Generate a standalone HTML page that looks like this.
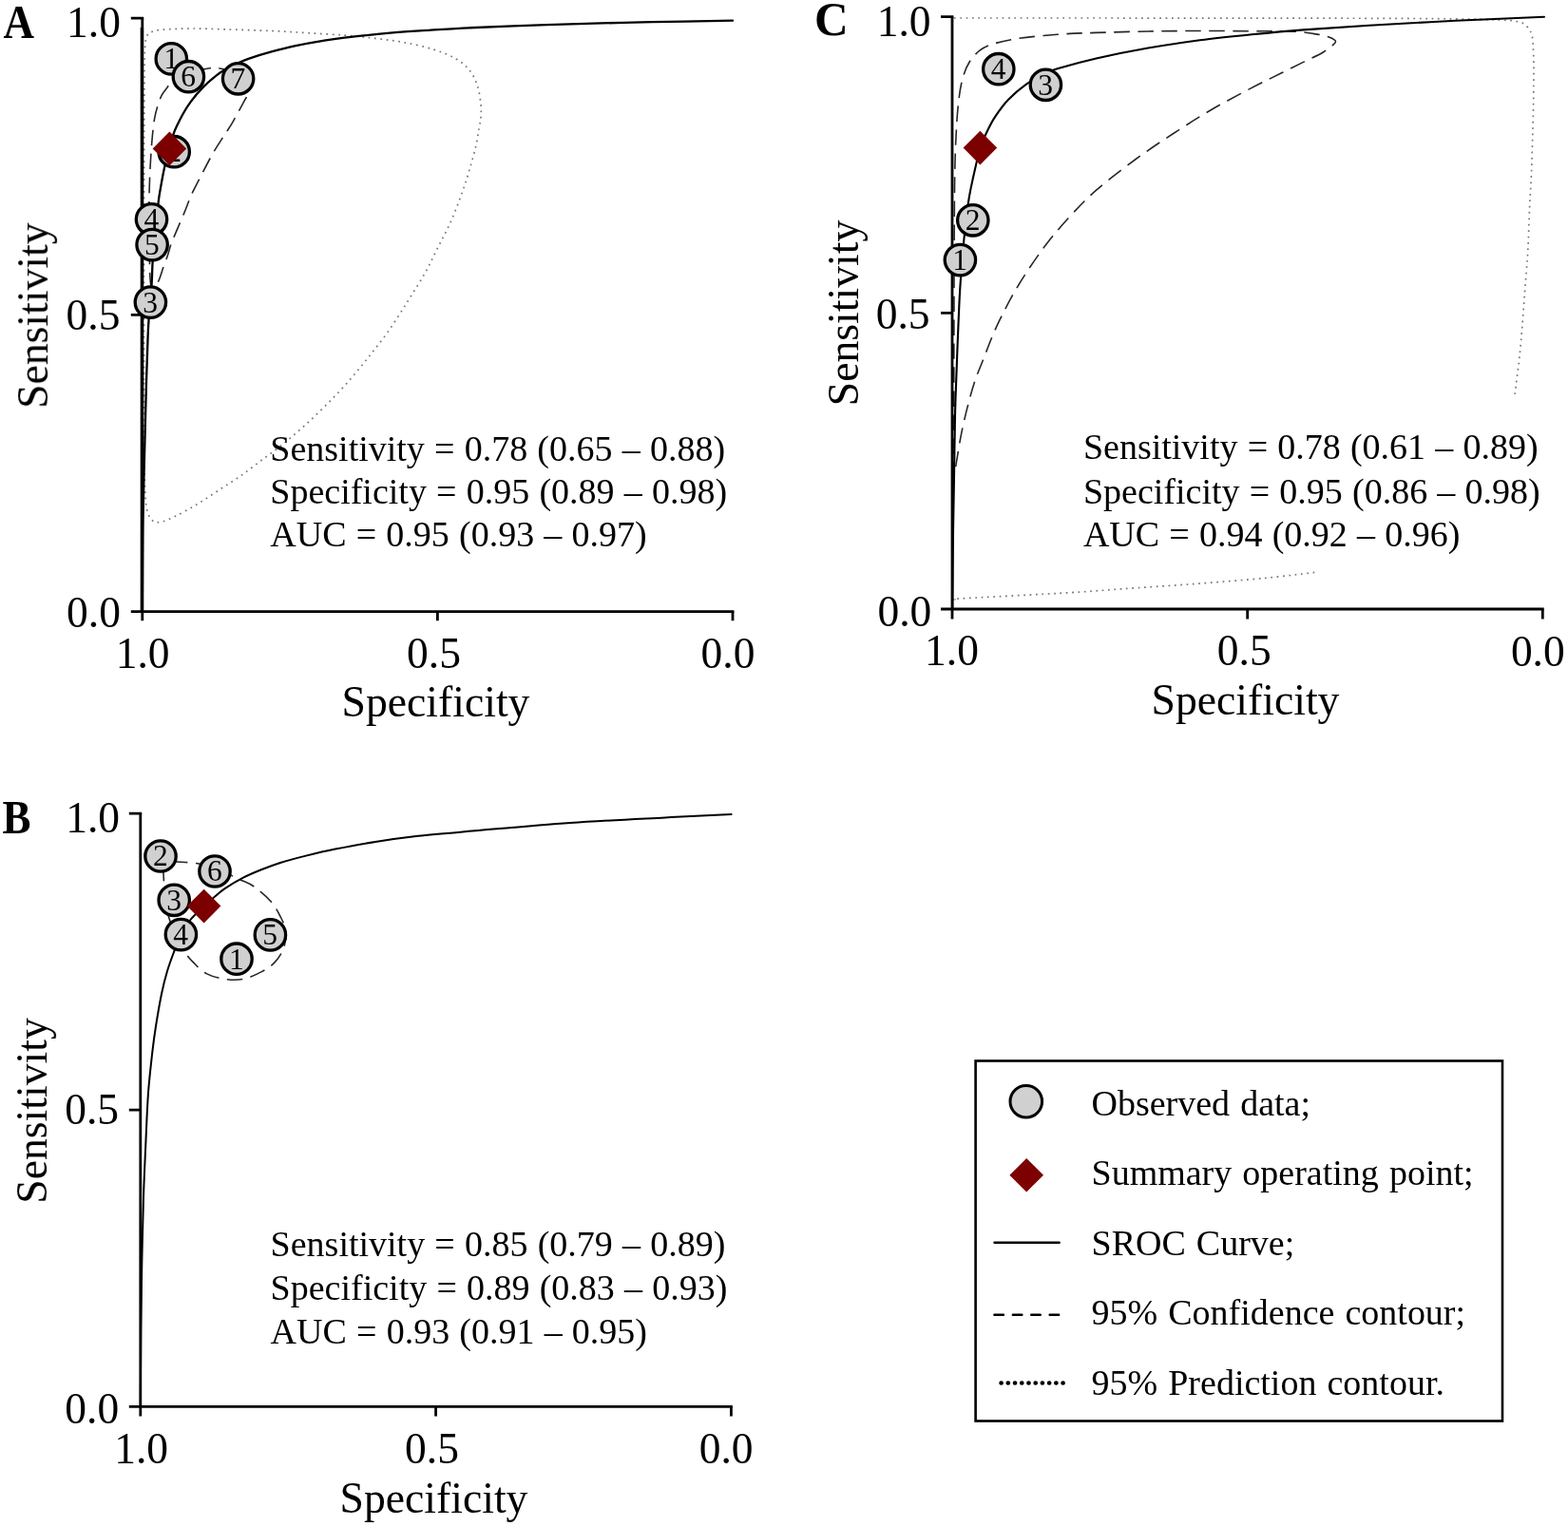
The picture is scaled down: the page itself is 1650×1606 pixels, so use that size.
<!DOCTYPE html>
<html lang="en">
<head>
<meta charset="utf-8">
<title>SROC curves</title>
<style>
html,body{margin:0;padding:0;background:#fff;}
body{width:1650px;height:1606px;overflow:hidden;}
svg{display:block;}
text{font-family:"Liberation Serif",serif;fill:#000;}
.ax path{stroke:#000;stroke-width:2.8;fill:none;stroke-linecap:butt;}
.tk{font-size:45.5px;}
.ti{font-size:45.7px;}
.an{font-size:38px;word-spacing:0.7px;}
.lg{word-spacing:1.6px;}
.pl{font-size:45px;font-weight:bold;}
.ob circle{fill:#d0d0d0;stroke:#000;stroke-width:3.3;}
.ob text{font-size:31.5px;text-anchor:middle;}
.dm{fill:#7b0000;}
.sr{fill:none;stroke:#000;stroke-width:2.3;stroke-linecap:round;stroke-linejoin:round;}
.cf{fill:none;stroke:#262626;stroke-width:1.6;stroke-dasharray:16.5 8.5;}
.pr{fill:none;stroke:#757575;stroke-width:1.7;stroke-dasharray:1.7 4.66;}
</style>
</head>
<body>
<svg width="1650" height="1606" viewBox="0 0 1650 1606">
<defs><filter id="soft" x="0" y="0" width="1650" height="1606" filterUnits="userSpaceOnUse"><feGaussianBlur stdDeviation="0.42"/></filter></defs>
<rect width="1650" height="1606" fill="#fff"/>
<g filter="url(#soft)">
<!-- Panel A -->
<text class="pl" transform="translate(3.6 40.2) scale(1 1.105)">A</text>
<path class="pr" d="M151.5 400.0C151.4 355.0 151.4 253.3 151.5 200.0C151.6 146.7 151.8 105.0 152.0 80.0C152.2 55.0 152.2 57.0 152.6 50.0C153.0 43.0 153.5 40.6 154.6 37.9C155.7 35.2 156.8 34.8 159.4 33.7C162.0 32.6 163.5 31.9 170.4 31.3C177.3 30.7 189.6 30.1 200.7 30.0C211.8 29.9 222.9 30.5 237.1 30.9C251.3 31.3 271.2 31.9 285.7 32.5C300.2 33.1 311.2 33.9 324.0 34.7C336.8 35.5 350.9 36.2 362.7 37.1C374.5 38.0 384.3 39.1 394.7 40.4C405.1 41.7 415.1 42.8 425.3 44.7C435.5 46.6 446.9 49.1 456.0 52.0C465.1 54.9 473.6 58.2 480.0 62.0C486.4 65.8 490.9 69.8 494.7 74.7C498.5 79.6 500.8 85.4 502.7 91.3C504.6 97.2 505.4 104.7 506.0 110.0C506.6 115.3 506.3 119.1 506.0 123.3C505.7 127.5 504.9 130.2 504.0 135.3C503.1 140.4 502.4 146.8 500.7 154.0C499.0 161.2 496.4 170.7 494.0 178.7C491.6 186.7 489.8 193.0 486.5 202.2C483.2 211.3 478.5 223.9 474.2 233.6C469.9 243.3 465.2 251.6 460.7 260.6C456.2 269.6 452.4 278.2 447.2 287.5C442.0 296.8 435.6 306.5 429.3 316.6C423.0 326.7 416.2 337.9 409.1 348.0C402.0 358.1 394.2 367.8 386.7 377.2C379.2 386.6 371.8 395.7 364.3 404.1C356.8 412.5 349.3 420.1 341.8 427.6C334.3 435.1 326.9 442.2 319.4 448.9C311.9 455.6 304.5 462.0 297.0 468.0C289.5 474.0 282.1 479.2 274.6 484.8C267.1 490.4 259.6 496.4 252.1 501.6C244.6 506.8 237.2 511.3 229.7 516.2C222.2 521.1 214.8 526.3 207.3 530.8C199.8 535.3 191.2 540.0 184.9 543.1C178.6 546.2 173.3 548.6 169.2 549.4C165.1 550.1 162.6 549.8 160.2 547.6C157.8 545.4 155.9 542.0 154.6 536.4C153.3 530.8 153.1 525.1 152.6 514.0C152.1 502.9 152.0 489.0 151.8 470.0C151.6 451.0 151.6 445.0 151.5 400.0Z"/>
<path class="cf" d="M159.5 303.0C158.5 301.2 158.2 297.2 157.8 290.0C157.4 282.8 157.4 270.0 157.3 260.0C157.2 250.0 157.1 239.2 157.0 230.0C156.9 220.8 156.8 214.3 157.0 205.0C157.2 195.7 157.7 183.5 158.2 173.9C158.7 164.3 159.3 155.3 160.0 147.2C160.7 139.1 161.5 131.5 162.5 125.4C163.5 119.3 164.8 115.0 166.1 110.8C167.4 106.5 168.7 103.1 170.4 99.9C172.1 96.7 174.6 93.8 176.4 91.4C178.2 89.0 179.0 87.3 181.3 85.3C183.6 83.3 186.4 81.2 190.0 79.5C193.6 77.8 198.6 76.2 203.0 75.0C207.4 73.8 212.8 73.1 216.5 72.5C220.2 71.9 222.4 71.3 225.0 71.3C227.6 71.2 229.3 71.6 232.3 72.2C235.3 72.8 239.6 73.6 243.0 75.0C246.4 76.4 250.2 78.3 253.0 80.5C255.8 82.7 258.4 85.8 260.0 88.0C261.6 90.2 262.1 92.2 262.3 94.0C262.5 95.8 262.3 96.4 261.4 98.6C260.4 100.8 258.6 103.4 256.6 107.1C254.6 110.8 251.5 116.5 249.3 120.5C247.1 124.5 245.4 127.8 243.2 131.4C241.0 135.1 239.1 137.3 235.9 142.4C232.7 147.5 227.6 155.1 223.8 161.8C220.0 168.5 216.5 175.4 212.9 182.4C209.3 189.4 205.2 196.7 202.0 203.8C198.8 210.9 196.5 217.7 193.5 224.9C190.5 232.1 186.3 241.6 184.0 247.1C181.7 252.6 180.9 254.2 179.7 257.7C178.5 261.2 177.8 264.6 176.6 268.3C175.4 272.0 173.7 275.8 172.3 279.9C170.9 283.9 169.5 289.1 168.1 292.6C166.7 296.1 165.4 299.3 164.0 301.0C162.6 302.7 160.5 304.8 159.5 303.0Z"/>
<path class="sr" d="M149.8 643.0C149.9 629.2 150.1 581.5 150.3 560.0C150.5 538.5 150.9 529.2 151.2 514.0C151.5 498.8 151.8 487.7 152.3 469.0C152.8 450.3 153.5 420.2 154.0 402.0C154.5 383.8 155.0 370.8 155.4 360.0C155.8 349.2 155.8 347.2 156.5 337.0C157.2 326.8 158.9 309.4 159.6 299.0C160.3 288.6 160.0 283.7 160.7 274.7C161.3 265.7 162.5 255.1 163.5 245.0C164.5 234.9 165.7 221.8 166.5 214.3C167.3 206.8 167.5 206.1 168.6 200.0C169.7 193.9 171.2 184.9 172.8 177.6C174.4 170.3 176.4 162.1 178.0 156.0C179.6 149.9 181.2 145.0 182.5 141.1C183.8 137.2 184.5 136.0 186.1 132.6C187.7 129.2 189.8 124.8 192.2 120.5C194.6 116.2 197.2 111.8 200.7 107.1C204.1 102.4 208.8 96.8 212.9 92.6C217.0 88.3 221.0 84.8 225.0 81.6C229.0 78.3 233.0 75.5 237.1 73.1C241.2 70.7 245.2 69.0 249.3 67.1C253.4 65.2 255.3 63.9 261.4 61.8C267.5 59.7 277.6 56.6 285.7 54.4C293.8 52.1 300.9 50.2 310.0 48.3C319.1 46.4 331.2 44.2 340.0 42.8C348.8 41.4 350.5 41.1 362.7 39.7C374.9 38.3 398.2 35.8 413.3 34.4C428.4 33.0 440.0 32.5 453.3 31.6C466.6 30.8 478.9 30.0 493.3 29.3C507.8 28.6 522.2 28.0 540.0 27.3C557.8 26.6 580.7 26.0 600.0 25.4C619.3 24.8 635.8 24.3 655.8 23.8C675.8 23.3 700.8 23.0 720.0 22.6C739.2 22.2 762.5 21.9 771.0 21.7"/>
<g class="ax">
<path d="M137.8 19.1H151.2M137.8 331.4H149.8M137.8 643.6H772.4"/>
<path d="M149.8 19.1V653.2M460.4 643.6v9.6M771.0 643.6v9.6"/>
<path d="M149.4 29.1V643.6" style="stroke-width:3.4px"/>
</g>
<g class="tk" text-anchor="middle">
<text transform="translate(150.1 703.0) scale(1 1.02)">1.0</text>
<text transform="translate(456.5 703.0) scale(1 1.02)">0.5</text>
<text transform="translate(766.0 703.0) scale(1 1.02)">0.0</text>
</g>
<g class="tk" text-anchor="end">
<text transform="translate(126.9 38.8) scale(1 1.02)">1.0</text>
<text transform="translate(126.4 346.8) scale(1 1.02)">0.5</text>
<text transform="translate(126.9 659.7) scale(1 1.02)">0.0</text>
</g>
<text class="ti" text-anchor="middle" transform="translate(458.5 754.4) scale(1 1.02)">Specificity</text>
<text class="ti" text-anchor="middle" transform="translate(49.9 332.2) rotate(-90) scale(1 1.02)">Sensitivity</text>
<g class="ob">
<circle cx="180.3" cy="61.9" r="16.2"/><text x="180.1" y="72.3">1</text>
<circle cx="198.4" cy="80.7" r="16.2"/><text x="198.2" y="91.1">6</text>
<circle cx="250.6" cy="82.8" r="16.2"/><text x="250.4" y="93.2">7</text>
<circle cx="183.2" cy="159.7" r="16.2"/><text x="183.0" y="170.1">2</text>
<circle cx="159.5" cy="230.8" r="16.2"/><text x="159.3" y="241.2">4</text>
<circle cx="160.1" cy="257.6" r="16.2"/><text x="159.9" y="268.0">5</text>
<circle cx="158.4" cy="318.1" r="16.2"/><text x="158.2" y="328.5">3</text>
</g>
<path class="dm" d="M160.6 156.4L178.4 138.6L196.2 156.4L178.4 174.2Z"/>
<g class="an">
<text transform="translate(284.3 485.2) scale(1 1.02)">Sensitivity = 0.78 (0.65 – 0.88)</text>
<text transform="translate(284.3 530.0) scale(1 1.02)">Specificity = 0.95 (0.89 – 0.98)</text>
<text transform="translate(284.3 574.8) scale(1 1.02)">AUC = 0.95 (0.93 – 0.97)</text>
</g>
<!-- Panel C -->
<text class="pl" transform="translate(856.9 37) scale(1.1 1.145)">C</text>
<path class="pr" d="M1004.0 19.0C1020.0 19.0 1042.3 19.0 1100.0 19.0C1157.7 19.0 1293.2 19.1 1350.0 19.1C1406.8 19.2 1410.7 19.2 1441.0 19.3C1471.3 19.4 1507.6 19.5 1531.8 19.9C1556.0 20.2 1575.2 20.8 1586.4 21.4C1597.6 22.0 1595.7 22.8 1598.7 23.5C1601.8 24.2 1603.0 24.4 1604.7 25.7C1606.4 26.9 1607.8 29.2 1609.0 31.0C1610.2 32.8 1611.3 33.7 1612.0 36.7C1612.7 39.7 1613.0 43.1 1613.3 49.1C1613.6 55.1 1614.0 62.7 1614.0 72.7C1614.0 82.7 1613.8 97.0 1613.6 109.1C1613.4 121.2 1613.0 133.4 1612.7 145.5C1612.4 157.6 1612.0 169.7 1611.5 181.8C1611.0 193.9 1610.2 204.6 1609.6 218.2C1609.0 231.8 1608.4 252.5 1607.8 263.6C1607.2 274.7 1606.8 277.7 1606.2 285.0C1605.7 292.3 1605.2 297.5 1604.5 307.3C1603.8 317.1 1602.7 332.4 1601.8 343.6C1600.9 354.8 1600.0 365.7 1599.1 374.5C1598.2 383.3 1597.3 389.0 1596.4 396.4C1595.5 403.8 1594.1 415.3 1593.6 419.1"/>
<path class="pr" d="M1005.0 630.8C1005.9 630.7 989.8 631.2 1010.2 630.0C1030.6 628.8 1099.0 625.3 1127.3 623.6C1155.6 621.9 1158.8 621.3 1180.0 619.8C1201.2 618.3 1229.3 616.6 1254.5 614.7C1279.7 612.8 1308.8 610.5 1330.9 608.4C1353.0 606.3 1377.6 603.1 1386.9 602.0"/>
<path class="cf" d="M1003.8 503.0C1003.8 485.8 1003.8 433.8 1003.8 400.0C1003.8 366.2 1003.9 334.9 1004.0 300.0C1004.1 265.1 1004.2 218.2 1004.6 190.9C1005.0 163.6 1005.6 151.0 1006.4 136.4C1007.1 121.9 1008.0 112.7 1009.1 103.6C1010.2 94.5 1011.4 88.1 1013.2 81.8C1015.0 75.5 1017.0 70.3 1020.0 65.5C1023.0 60.7 1026.8 56.4 1030.9 53.2C1035.0 50.0 1037.7 48.5 1044.5 46.4C1051.3 44.3 1060.4 42.1 1071.8 40.4C1083.2 38.7 1099.1 37.3 1112.7 36.3C1126.3 35.3 1137.7 34.9 1153.6 34.4C1169.5 33.9 1190.0 33.3 1208.2 33.0C1226.4 32.7 1244.5 32.5 1262.7 32.5C1280.9 32.5 1300.7 32.6 1317.3 32.7C1333.9 32.8 1351.4 32.7 1362.3 33.2C1373.2 33.7 1376.9 34.7 1382.7 35.6C1388.5 36.5 1393.3 37.3 1397.0 38.4C1400.7 39.5 1403.4 41.0 1404.6 42.2C1405.8 43.4 1406.3 43.7 1404.3 45.8C1402.3 47.9 1398.1 51.5 1392.8 54.7C1387.5 57.9 1379.7 61.3 1372.5 64.9C1365.3 68.5 1358.8 71.7 1349.6 76.3C1340.4 80.9 1329.5 86.0 1317.3 92.4C1305.1 98.8 1290.0 106.6 1276.4 114.5C1262.8 122.4 1249.2 131.1 1235.5 140.0C1221.8 148.9 1208.2 158.0 1194.5 168.0C1180.8 178.0 1164.9 190.3 1153.6 200.2C1142.2 210.1 1135.5 217.3 1126.4 227.2C1117.3 237.1 1108.2 247.5 1099.1 259.6C1090.0 271.7 1080.0 286.4 1071.8 300.0C1063.6 313.6 1056.3 327.6 1050.0 340.9C1043.7 354.2 1038.1 369.7 1034.0 380.0C1029.9 390.3 1027.9 394.8 1025.3 402.7C1022.7 410.6 1020.6 418.7 1018.4 427.1C1016.2 435.5 1014.0 444.8 1012.3 453.2C1010.5 461.6 1009.2 470.0 1007.9 477.6C1006.6 485.2 1005.1 495.4 1004.6 499.0"/>
<path class="sr" style="stroke-width:2.1px" d="M1002.3 641.0C1002.4 627.5 1002.7 583.2 1003.0 560.0C1003.3 536.8 1003.7 522.3 1004.0 502.0C1004.3 481.7 1004.6 455.8 1005.0 438.0C1005.4 420.2 1005.8 411.7 1006.4 395.5C1007.0 379.3 1007.8 356.8 1008.5 340.9C1009.2 325.0 1009.5 315.0 1010.5 300.0C1011.5 285.0 1013.1 265.0 1014.5 250.9C1015.9 236.8 1017.5 224.1 1018.6 215.5C1019.8 206.9 1020.0 205.9 1021.4 199.1C1022.8 192.3 1025.1 181.8 1026.8 174.5C1028.5 167.2 1029.7 161.3 1031.5 155.6C1033.3 149.9 1035.1 146.0 1037.7 140.5C1040.3 135.0 1043.4 128.6 1047.3 122.7C1051.2 116.8 1055.5 110.7 1060.9 105.0C1066.4 99.3 1073.5 93.2 1080.0 88.6C1086.5 84.0 1094.5 80.2 1100.0 77.5C1105.5 74.8 1103.8 75.0 1112.7 72.3C1121.6 69.6 1137.7 65.0 1153.6 61.4C1169.5 57.8 1190.0 53.7 1208.2 50.5C1226.4 47.3 1244.5 44.7 1262.7 42.3C1280.9 39.9 1299.1 38.1 1317.3 36.3C1335.5 34.5 1351.2 33.0 1371.8 31.4C1392.4 29.8 1414.2 28.3 1440.9 26.7C1467.6 25.1 1501.1 23.3 1531.8 21.8C1562.5 20.3 1609.5 18.4 1625.0 17.7"/>
<g class="ax">
<path d="M990.0 17.7H1003.4M990.0 329.4H1002.0M990.0 641.0H1624.7"/>
<path d="M1002.0 17.7V651.4M1312.7 641.0v10.4M1623.3 641.0v10.4"/>
</g>
<g class="tk" text-anchor="middle">
<text transform="translate(1001.5 700.3) scale(1 1.02)">1.0</text>
<text transform="translate(1309.2 700.2) scale(1 1.02)">0.5</text>
<text transform="translate(1618.3 700.6) scale(1 1.02)">0.0</text>
</g>
<g class="tk" text-anchor="end">
<text transform="translate(979.6 37.5) scale(1 1.02)">1.0</text>
<text transform="translate(978.5 345.9) scale(1 1.02)">0.5</text>
<text transform="translate(980.3 659.0) scale(1 1.02)">0.0</text>
</g>
<text class="ti" text-anchor="middle" transform="translate(1310.5 752.4) scale(1 1.02)">Specificity</text>
<text class="ti" text-anchor="middle" transform="translate(902.9 329.5) rotate(-90) scale(1 1.02)">Sensitivity</text>
<g class="ob">
<circle cx="1050.8" cy="72.7" r="16.2"/><text x="1050.6" y="83.1">4</text>
<circle cx="1100.4" cy="89.3" r="16.2"/><text x="1100.2" y="99.7">3</text>
<circle cx="1023.8" cy="231.8" r="16.2"/><text x="1023.6" y="242.2">2</text>
<circle cx="1010.4" cy="273.6" r="16.2"/><text x="1010.2" y="284.0">1</text>
</g>
<path class="dm" d="M1013.6 155.6L1031.4 137.8L1049.2 155.6L1031.4 173.4Z"/>
<g class="an">
<text transform="translate(1139.9 482.8) scale(1 1.02)">Sensitivity = 0.78 (0.61 – 0.89)</text>
<text transform="translate(1139.9 529.7) scale(1 1.02)">Specificity = 0.95 (0.86 – 0.98)</text>
<text transform="translate(1139.9 575.4) scale(1 1.02)">AUC = 0.94 (0.92 – 0.96)</text>
</g>
<!-- Panel B -->
<text class="pl" transform="translate(2.6 877.4) scale(1 1.105)">B</text>
<path class="cf" d="M172.3 925.0C172.1 919.5 171.4 915.1 172.0 912.0C172.6 908.9 173.7 907.3 176.0 906.5C178.3 905.7 180.4 906.6 186.0 907.0C191.6 907.4 202.1 907.6 209.4 909.0C216.7 910.4 222.9 912.8 230.0 915.5C237.1 918.2 245.8 922.5 252.1 925.5C258.4 928.5 262.2 929.4 267.7 933.3C273.2 937.2 280.6 943.6 285.1 948.8C289.6 954.0 292.3 959.1 294.9 964.3C297.5 969.5 300.1 974.4 300.7 979.9C301.3 985.4 300.6 991.9 298.7 997.4C296.8 1002.9 292.9 1008.7 289.0 1012.9C285.1 1017.1 280.9 1019.7 275.4 1022.6C269.9 1025.5 262.5 1029.1 256.0 1030.4C249.5 1031.7 243.1 1031.4 236.6 1030.4C230.1 1029.4 222.6 1027.5 217.1 1024.6C211.6 1021.7 207.4 1016.8 203.5 1012.9C199.6 1009.0 196.9 1005.9 193.8 1001.3C190.7 996.6 187.8 991.2 185.0 985.0C182.2 978.8 179.2 971.0 177.3 964.3C175.4 957.6 174.3 951.5 173.5 945.0C172.7 938.5 172.6 930.5 172.3 925.0Z"/>
<path class="sr" style="stroke-width:2.0px" d="M147.8 1480.0C147.9 1466.7 148.1 1425.0 148.3 1400.0C148.6 1375.0 148.9 1353.3 149.3 1330.0C149.8 1306.7 150.3 1281.7 151.0 1260.0C151.7 1238.3 152.7 1218.3 153.5 1200.0C154.3 1181.7 154.9 1165.0 156.0 1150.0C157.1 1135.0 158.7 1121.7 160.0 1110.0C161.3 1098.3 162.3 1090.7 164.0 1080.0C165.7 1069.3 168.0 1055.7 170.0 1046.0C172.0 1036.3 173.8 1029.3 176.0 1022.0C178.2 1014.7 180.6 1008.3 183.0 1002.0C185.4 995.7 187.6 989.6 190.4 984.0C193.2 978.4 196.0 973.5 200.0 968.5C204.0 963.5 210.4 958.0 214.6 954.0C218.8 950.0 221.3 947.6 225.0 944.5C228.7 941.4 231.4 938.7 236.6 935.2C241.8 931.7 249.6 927.0 256.0 923.7C262.4 920.4 268.5 917.9 275.0 915.3C281.5 912.7 287.2 910.5 295.0 908.0C302.8 905.5 312.3 903.0 322.0 900.6C331.7 898.2 340.8 896.0 353.0 893.6C365.2 891.2 380.5 888.3 395.0 886.0C409.5 883.7 422.5 881.8 440.0 879.8C457.5 877.8 473.3 876.6 500.0 874.3C526.7 872.0 566.7 868.3 600.0 866.0C633.3 863.7 671.7 861.9 700.0 860.4C728.3 858.9 758.0 857.5 769.6 856.9"/>
<g class="ax">
<path d="M135.8 856.2H149.2M135.8 1168.2H147.8M135.8 1480.3H770.8"/>
<path d="M147.8 856.2V1490.5M458.6 1480.3v10.2M769.4 1480.3v10.2"/>
</g>
<g class="tk" text-anchor="middle">
<text transform="translate(148.6 1539.8) scale(1 1.02)">1.0</text>
<text transform="translate(454.5 1539.7) scale(1 1.02)">0.5</text>
<text transform="translate(764.1 1539.7) scale(1 1.02)">0.0</text>
</g>
<g class="tk" text-anchor="end">
<text transform="translate(126.0 876.2) scale(1 1.02)">1.0</text>
<text transform="translate(125.0 1183.3) scale(1 1.02)">0.5</text>
<text transform="translate(125.2 1498.2) scale(1 1.02)">0.0</text>
</g>
<text class="ti" text-anchor="middle" transform="translate(456.5 1592.1) scale(1 1.02)">Specificity</text>
<text class="ti" text-anchor="middle" transform="translate(48.9 1169.0) rotate(-90) scale(1 1.02)">Sensitivity</text>
<g class="ob">
<circle cx="169" cy="901" r="16.2"/><text x="168.8" y="911.4">2</text>
<circle cx="226" cy="917" r="16.2"/><text x="225.8" y="927.4">6</text>
<circle cx="183.2" cy="947.3" r="16.2"/><text x="183.0" y="957.7">3</text>
<circle cx="190.4" cy="983.6" r="16.2"/><text x="190.2" y="994.0">4</text>
<circle cx="284.4" cy="983.9" r="16.2"/><text x="284.2" y="994.3">5</text>
<circle cx="249" cy="1009.2" r="16.2"/><text x="248.8" y="1019.6">1</text>
</g>
<path class="dm" d="M196.8 953.6L214.6 935.8L232.4 953.6L214.6 971.4Z"/>
<g class="an">
<text transform="translate(284.6 1322.0) scale(1 1.02)">Sensitivity = 0.85 (0.79 – 0.89)</text>
<text transform="translate(284.6 1368.0) scale(1 1.02)">Specificity = 0.89 (0.83 – 0.93)</text>
<text transform="translate(284.6 1414.0) scale(1 1.02)">AUC = 0.93 (0.91 – 0.95)</text>
</g>
<!-- Legend -->
<rect x="1026.6" y="1116.5" width="554.4" height="379" fill="#fff" stroke="#000" stroke-width="2.6"/>
<circle cx="1079.8" cy="1159.2" r="16.8" fill="#d0d0d0" stroke="#000" stroke-width="3"/>
<path class="dm" d="M1062.4 1236.7L1080.2 1218.9L1098.0 1236.7L1080.2 1254.5Z"/>
<path d="M1046.6 1307.7H1114.6" stroke="#000" stroke-width="2.6" stroke-linecap="round" fill="none"/>
<path d="M1046.4 1383.7H1114.3" stroke="#000" stroke-width="2.4" stroke-linecap="round" fill="none" stroke-dasharray="9.6 9.8"/>
<path d="M1053.6 1455.5H1118.8" stroke="#000" stroke-width="4.7" stroke-linecap="round" fill="none" stroke-dasharray="0.01 7.21"/>
<g class="an lg">
<text transform="translate(1148.5 1173.8) scale(1 1.02)">Observed data;</text>
<text transform="translate(1148.5 1247.3) scale(1 1.02)">Summary operating point;</text>
<text transform="translate(1148.5 1320.8) scale(1 1.02)">SROC Curve;</text>
<text transform="translate(1148.5 1394.3) scale(1 1.02)">95% Confidence contour;</text>
<text transform="translate(1148.5 1467.8) scale(1 1.02)">95% Prediction contour.</text>
</g>
</g>
</svg>
</body>
</html>
